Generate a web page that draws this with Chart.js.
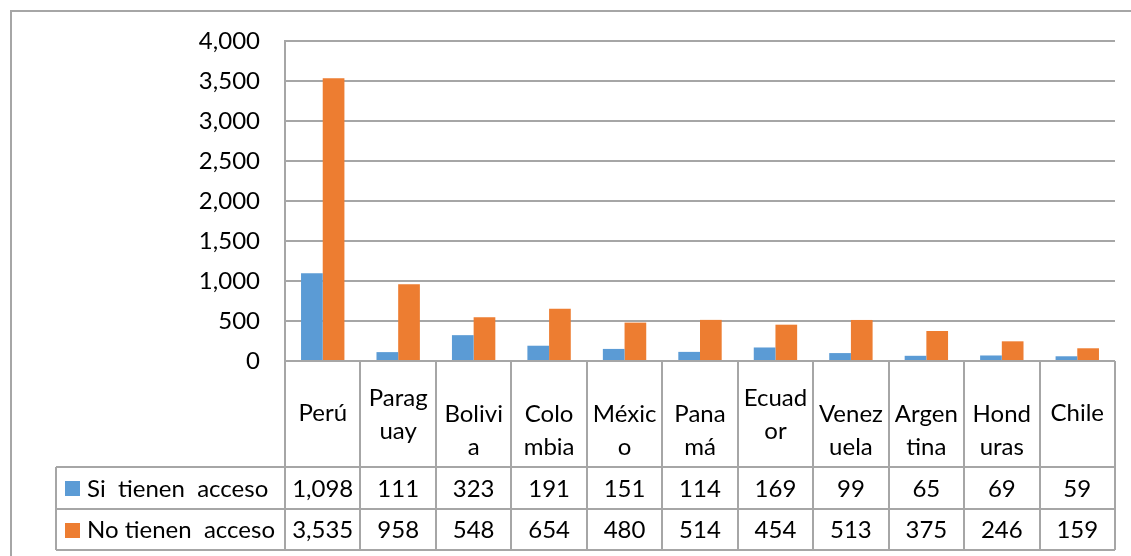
<!DOCTYPE html>
<html>
<head>
<meta charset="utf-8">
<script src="https://cdn.jsdelivr.net/npm/chart.js@4/dist/chart.umd.min.js"></script>
<style>
  html, body { margin: 0; padding: 0; background: #ffffff; }
  #wrap { width: 1131px; height: 556px; position: relative; }
</style>
</head>
<body>
<div id="wrap"><canvas id="c" width="1131" height="556"></canvas></div>
<script>
// Country labels, already split the way they wrap in the table cells
const categories = [
  ["Perú"], ["Parag", "uay"], ["Bolivi", "a"], ["Colo", "mbia"], ["Méxic", "o"],
  ["Pana", "má"], ["Ecuad", "or"], ["Venez", "uela"], ["Argen", "tina"],
  ["Hond", "uras"], ["Chile"]
];
const seriesNames = ["Si  tienen  acceso", "No tienen  acceso"];
const siTienenAcceso = [1098, 111, 323, 191, 151, 114, 169, 99, 65, 69, 59];
const noTienenAcceso = [3535, 958, 548, 654, 480, 514, 454, 513, 375, 246, 159];
const yTickMin = 0, yTickMax = 4000, yTickStep = 500;

// Styling
const COLORS = ["#5B9BD5", "#ED7D31"];
const LINE = "#a6a6a6";
const FONT = "Lato, 'Open Sans', sans-serif";
const FONT_SIZE = 24;
const RAISED_LABELS = new Set([1, 6]); // label cells whose text block sits higher

const fmt = v => v.toLocaleString("en-US");

const dataTable = {
  id: "dataTable",
  beforeDraw(chart) {
    const ctx = chart.ctx;
    ctx.save();
    ctx.fillStyle = "#ffffff";
    ctx.fillRect(0, 0, chart.width, chart.height);
    // outer chart frame
    ctx.strokeStyle = LINE;
    ctx.lineWidth = 2;
    ctx.beginPath();
    ctx.moveTo(11, chart.height + 2);
    ctx.lineTo(11, 11);
    ctx.lineTo(chart.width + 2, 11);
    ctx.stroke();
    ctx.restore();
  },
  afterDraw(chart) {
    const ctx = chart.ctx;
    const x = chart.scales.x, y = chart.scales.y;
    const left = chart.chartArea.left, right = chart.chartArea.right;
    const base = y.getPixelForValue(0);
    const n = categories.length;
    const cellW = (right - left) / n;
    const labelBottom = base + 106;
    const row1Bottom = labelBottom + 42;
    const row2Bottom = row1Bottom + 41;
    const tableLeft = 56;

    ctx.save();
    ctx.strokeStyle = LINE;
    ctx.lineWidth = 2;
    ctx.beginPath();
    // horizontal rules
    ctx.moveTo(left, base); ctx.lineTo(right, base);
    [labelBottom, row1Bottom, row2Bottom].forEach(yy => {
      ctx.moveTo(tableLeft, yy); ctx.lineTo(right, yy);
    });
    // vertical rules
    ctx.moveTo(tableLeft, labelBottom); ctx.lineTo(tableLeft, row2Bottom);
    for (let i = 0; i <= n; i++) {
      const xx = Math.round(left + i * cellW);
      ctx.moveTo(xx, i === 0 ? chart.chartArea.top : base);
      ctx.lineTo(xx, row2Bottom);
    }
    ctx.stroke();

    ctx.fillStyle = "#000000";
    ctx.font = FONT_SIZE + "px " + FONT;
    ctx.textAlign = "center";
    ctx.textBaseline = "middle";
    // category labels
    categories.forEach((lines, i) => {
      const cx = x.getPixelForValue(i);
      let y0;
      if (lines.length === 1) y0 = base + 52;
      else y0 = RAISED_LABELS.has(i) ? base + 37 : base + 53;
      lines.forEach((t, k) => ctx.fillText(t, cx, y0 + k * 33));
    });
    // values
    const rows = [siTienenAcceso, noTienenAcceso];
    const rowMid = [(labelBottom + row1Bottom) / 2, (row1Bottom + row2Bottom) / 2];
    rows.forEach((vals, r) => {
      vals.forEach((v, i) => ctx.fillText(fmt(v), x.getPixelForValue(i), rowMid[r] + 1));
    });
    // legend keys
    ctx.textAlign = "left";
    seriesNames.forEach((name, r) => {
      ctx.fillStyle = COLORS[r];
      ctx.fillRect(65, Math.round(rowMid[r] - 7), 15, 15);
      ctx.fillStyle = "#000000";
      ctx.fillText(name, 87, rowMid[r] + 1);
    });
    ctx.restore();
  }
};

function build() {
  new Chart(document.getElementById("c"), {
    type: "bar",
    data: {
      labels: categories,
      datasets: [
        { label: seriesNames[0], data: siTienenAcceso, backgroundColor: COLORS[0] },
        { label: seriesNames[1], data: noTienenAcceso, backgroundColor: COLORS[1] }
      ]
    },
    options: {
      responsive: false,
      animation: false,
      devicePixelRatio: 1,
      layout: { padding: { left: 0, top: 41, right: 16, bottom: 195 } },
      datasets: { bar: { categoryPercentage: 0.575, barPercentage: 1.0, borderWidth: 0 } },
      plugins: { legend: { display: false }, tooltip: { enabled: false } },
      scales: {
        x: { display: false },
        y: {
          min: yTickMin, max: yTickMax,
          afterFit(s) { s.width = 285; },
          ticks: {
            stepSize: yTickStep, padding: 25, color: "#000000",
            font: { family: FONT, size: FONT_SIZE },
            callback: v => fmt(v)
          },
          grid: { color: LINE, lineWidth: 2, drawTicks: false },
          border: { display: true, color: LINE, width: 2 }
        }
      }
    },
    plugins: [dataTable]
  });
}

if (document.fonts && document.fonts.load) {
  document.fonts.load(FONT_SIZE + "px Lato").then(build, build);
} else {
  build();
}
</script>
</body>
</html>
